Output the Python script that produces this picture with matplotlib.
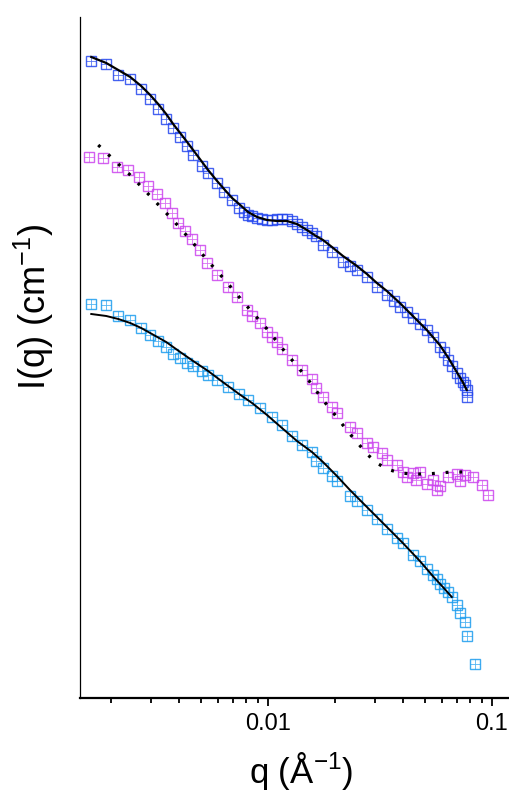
import numpy as np
import matplotlib
matplotlib.use('Agg')
import matplotlib.pyplot as plt
from matplotlib.ticker import LogLocator, FixedLocator, FixedFormatter, NullFormatter

plt.rcParams['font.family'] = ['Liberation Sans', 'DejaVu Sans']
plt.rcParams['mathtext.fontset'] = 'custom'
plt.rcParams['mathtext.rm'] = 'Liberation Sans'
plt.rcParams['mathtext.default'] = 'regular'

# series 1 (blue), data and fit
q_blue = [1.625e-3, 1.896e-3, 2.145e-3, 2.426e-3, 2.715e-3, 2.978e-3, 3.233e-3, 3.510e-3,
          3.771e-3, 4.053e-3, 4.353e-3, 4.630e-3, 5.078e-3, 5.401e-3, 5.924e-3, 6.364e-3,
          6.911e-3, 7.426e-3, 7.816e-3, 8.143e-3, 8.485e-3, 8.933e-3, 9.403e-3, 9.898e-3,
          1.042e-2, 1.097e-2, 1.154e-2, 1.215e-2, 1.279e-2, 1.347e-2, 1.418e-2, 1.492e-2,
          1.571e-2, 1.637e-2, 1.759e-2, 1.929e-2, 2.160e-2, 2.321e-2, 2.494e-2, 2.763e-2,
          3.062e-2, 3.393e-2, 3.645e-2, 3.877e-2, 4.167e-2, 4.431e-2, 4.762e-2, 5.116e-2,
          5.440e-2, 5.845e-2, 6.091e-2, 6.346e-2, 6.612e-2, 6.960e-2, 7.178e-2, 7.403e-2,
          7.556e-2, 7.713e-2, 7.713e-2]
I_blue = [2427, 2265, 1778, 1622, 1288, 1023, 812.8, 645.7,
          524.8, 426.6, 346.7, 281.8, 218.8, 186.2, 147.9, 120.2,
          100.0, 83.18, 75.86, 70.79, 69.18, 66.07, 64.57, 63.10,
          63.10, 64.57, 64.57, 64.57, 61.66, 57.54, 53.70, 50.12,
          46.77, 43.65, 35.48, 30.20, 23.99, 21.88, 19.95, 16.98,
          13.49, 11.22, 9.772, 8.511, 7.586, 6.607, 5.754, 5.012,
          4.266, 3.388, 3.020, 2.512, 2.188, 1.862, 1.660, 1.514,
          1.413, 1.259, 1.072]
q_blue_fit = [1.625e-3, 1.896e-3, 2.145e-3, 2.426e-3, 2.715e-3, 2.978e-3, 3.233e-3, 3.510e-3,
              3.771e-3, 4.053e-3, 4.353e-3, 4.630e-3, 5.078e-3, 5.401e-3, 5.924e-3, 6.364e-3,
              6.911e-3, 7.426e-3, 8.143e-3, 8.933e-3, 9.898e-3, 1.097e-2, 1.215e-2, 1.347e-2,
              1.492e-2, 1.637e-2, 1.759e-2, 1.929e-2, 2.160e-2, 2.321e-2, 2.494e-2, 2.763e-2,
              3.062e-2, 3.393e-2, 3.877e-2, 4.431e-2, 5.116e-2, 5.845e-2, 6.346e-2, 6.960e-2,
              7.403e-2, 7.713e-2]
I_blue_fit = [2692, 2344, 1995, 1698, 1380, 1122, 912.0, 724.4,
              575.4, 467.7, 380.2, 316.2, 239.9, 199.5, 154.9, 128.8,
              104.7, 91.20, 75.86, 67.61, 63.10, 61.66, 61.66, 57.54,
              50.12, 43.65, 39.81, 33.88, 27.54, 24.55, 21.88, 18.20,
              14.79, 12.30, 9.333, 6.918, 5.012, 3.548, 2.692, 1.905,
              1.514, 1.259]

# series 2 (magenta), data and fit
q_mag = [1.592e-3, 1.838e-3, 2.122e-3, 2.376e-3, 2.660e-3, 2.917e-3, 3.200e-3, 3.474e-3,
         3.733e-3, 3.969e-3, 4.266e-3, 4.584e-3, 4.975e-3, 5.346e-3, 5.924e-3, 6.633e-3,
         7.274e-3, 8.061e-3, 8.485e-3, 9.211e-3, 9.898e-3, 1.042e-2, 1.097e-2, 1.154e-2,
         1.279e-2, 1.418e-2, 1.571e-2, 1.637e-2, 1.759e-2, 1.929e-2, 2.030e-2, 2.321e-2,
         2.494e-2, 2.763e-2, 2.939e-2, 3.223e-2, 3.393e-2, 3.760e-2, 3.998e-2, 4.167e-2,
         4.431e-2, 4.569e-2, 4.762e-2, 5.116e-2, 5.440e-2, 5.668e-2, 5.845e-2, 6.346e-2,
         6.960e-2, 7.178e-2, 7.556e-2, 8.204e-2, 9.000e-2, 9.568e-2]
I_mag = [269.2, 263.0, 213.8, 199.5, 169.8, 138.0, 114.8, 93.33,
         74.13, 58.88, 48.98, 40.74, 31.62, 23.44, 17.78, 13.49,
         10.72, 7.943, 6.918, 5.888, 4.786, 4.266, 3.802, 3.236,
         2.512, 1.995, 1.622, 1.318, 1.072, 0.8511, 0.7413, 0.5370,
         0.4677, 0.3715, 0.3388, 0.2951, 0.2512, 0.2239, 0.1905, 0.1698,
         0.1862, 0.1585, 0.1905, 0.1445, 0.1585, 0.1259, 0.1380, 0.1698,
         0.1820, 0.1549, 0.1778, 0.1698, 0.1413, 0.1122]
q_mag_fit = [1.746e-3, 2.122e-3, 2.426e-3, 2.978e-3, 3.510e-3, 4.053e-3, 4.630e-3, 5.346e-3,
             6.364e-3, 7.426e-3, 8.485e-3, 9.898e-3, 1.154e-2, 1.347e-2, 1.492e-2, 1.759e-2,
             1.929e-2, 2.321e-2, 2.494e-2, 2.763e-2, 3.062e-2, 3.393e-2, 3.877e-2, 4.431e-2,
             5.116e-2, 5.845e-2, 6.612e-2, 7.556e-2]
I_mag_fit = [354.8, 234.4, 177.8, 109.6, 74.13, 52.48, 37.15, 25.12,
             16.22, 10.72, 7.586, 5.129, 3.311, 2.188, 1.660, 1.000,
             0.7762, 0.4571, 0.3802, 0.2884, 0.2344, 0.2042, 0.1862, 0.1820,
             0.1820, 0.1862, 0.1905, 0.1905]

# series 3 (light blue), data and fit
q_cyan = [1.625e-3, 1.896e-3, 2.145e-3, 2.426e-3, 2.715e-3, 2.978e-3, 3.233e-3, 3.510e-3,
          3.771e-3, 4.053e-3, 4.353e-3, 4.630e-3, 5.078e-3, 5.401e-3, 5.924e-3, 6.633e-3,
          7.426e-3, 8.143e-3, 9.211e-3, 1.042e-2, 1.154e-2, 1.279e-2, 1.418e-2, 1.571e-2,
          1.637e-2, 1.759e-2, 1.929e-2, 2.030e-2, 2.321e-2, 2.494e-2, 2.763e-2, 3.062e-2,
          3.393e-2, 3.760e-2, 3.998e-2, 4.431e-2, 4.762e-2, 5.116e-2, 5.440e-2, 5.668e-2,
          5.845e-2, 6.091e-2, 6.346e-2, 6.612e-2, 6.960e-2, 7.178e-2, 7.556e-2, 7.713e-2,
          8.400e-2]
I_cyan = [9.120, 8.913, 6.918, 6.310, 5.248, 4.467, 3.890, 3.388,
          2.884, 2.630, 2.344, 2.188, 1.950, 1.778, 1.585, 1.349,
          1.148, 1.000, 0.8318, 0.6761, 0.5623, 0.4365, 0.3548, 0.3020,
          0.2455, 0.2089, 0.1738, 0.1549, 0.1096, 0.09772, 0.07943, 0.06457,
          0.05129, 0.04169, 0.03715, 0.02818, 0.02455, 0.02042, 0.01778, 0.01622,
          0.01445, 0.01318, 0.01202, 0.01072, 0.008913, 0.007413, 0.006026, 0.004365,
          0.002291]
q_cyan_fit = [1.625e-3, 1.896e-3, 2.145e-3, 2.426e-3, 2.715e-3, 2.978e-3, 3.510e-3, 4.053e-3,
              4.630e-3, 5.401e-3, 6.364e-3, 7.426e-3, 8.485e-3, 9.898e-3, 1.154e-2, 1.347e-2,
              1.571e-2, 1.759e-2, 2.030e-2, 2.321e-2, 2.763e-2, 3.393e-2, 3.998e-2, 4.762e-2,
              5.440e-2, 6.091e-2, 6.612e-2]
I_cyan_fit = [7.244, 6.918, 6.457, 5.888, 5.248, 4.677, 3.802, 3.020,
              2.455, 1.950, 1.479, 1.148, 0.9333, 0.7079, 0.5248, 0.3890,
              0.3020, 0.2399, 0.1738, 0.1259, 0.08511, 0.05370, 0.03715, 0.02455,
              0.01738, 0.01318, 0.01072]

c_blue = '#2446ee'
c_mag = '#cc44ee'
c_cyan = '#1c9cee'

fig = plt.figure(figsize=(5.09, 7.91), dpi=100)
ax = fig.add_axes([79.5 / 509, 93.5 / 791, 429.5 / 509, 680.5 / 791])


def boxed(q, I, color):
    # square marker with a cross inside, like the original symbols
    ax.plot(q, I, ls='none', marker='s', ms=6.8, mfc='none', mec=color, mew=1.0, alpha=0.85)
    ax.plot(q, I, ls='none', marker='+', ms=6.8, mec=color, mew=0.6, alpha=0.75)


boxed(q_blue, I_blue, c_blue)
boxed(q_mag, I_mag, c_mag)
boxed(q_cyan, I_cyan, c_cyan)

ax.plot(q_blue_fit, I_blue_fit, color='black', lw=1.6)
ax.plot(q_cyan_fit, I_cyan_fit, color='black', lw=1.4)
ax.plot(q_mag_fit, I_mag_fit, color='black', lw=2.3, dashes=(0.9, 3.4))

ax.set_xscale('log')
ax.set_yscale('log')
ax.set_xlim(1.44e-3, 0.1191)
ax.set_ylim(1.059e-3, 6761)

ax.xaxis.set_major_locator(FixedLocator([0.01, 0.1]))
ax.xaxis.set_major_formatter(FixedFormatter(['0.01', '0.1']))
ax.xaxis.set_minor_locator(LogLocator(base=10, subs=np.arange(2, 10)))
ax.xaxis.set_minor_formatter(NullFormatter())
ax.tick_params(axis='x', which='major', direction='out', length=6, width=1.3,
               labelsize=17, pad=5)
ax.tick_params(axis='x', which='minor', direction='out', length=3.5, width=1.3)
ax.tick_params(axis='y', which='both', left=False, labelleft=False)

ax.spines['top'].set_visible(False)
ax.spines['right'].set_visible(False)
ax.spines['bottom'].set_linewidth(1.6)
ax.spines['left'].set_linewidth(0.9)

fig.text(34 / 509, 1 - 307 / 791, r'I(q) (cm$^{-1}$)', rotation=90,
         ha='center', va='center', fontsize=26)
fig.text(301 / 509, 1 - 771 / 791, r'q ($\AA^{-1}$)',
         ha='center', va='center', fontsize=25)

plt.savefig('out.png', dpi=100)
plt.close()
